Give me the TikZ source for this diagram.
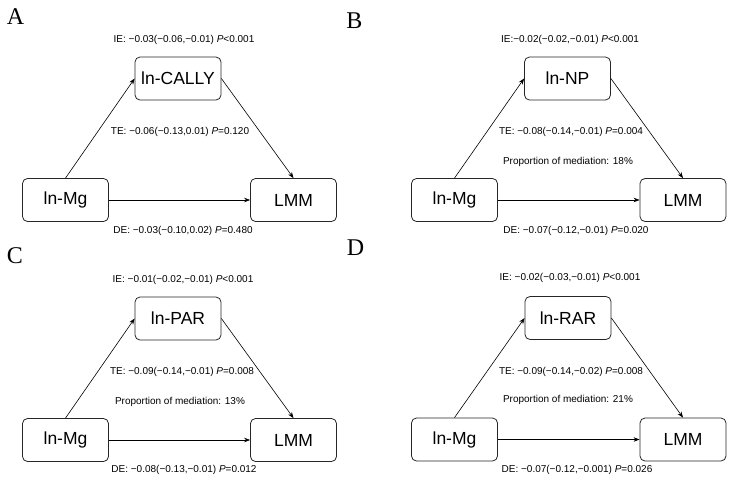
\documentclass[tikz,border=0pt]{standalone}
\usepackage{fontspec}
\setmainfont{Liberation Sans}
\newfontfamily\labelfont{Liberation Serif}
\usetikzlibrary{arrows.meta}
\tikzset{
  varbox/.style={draw=black!85, line width=0.8pt, rounded corners=5pt,
    minimum width=86pt, minimum height=43pt, inner sep=0pt,
    font=\fontsize{17.5}{20}\selectfont},
  stat/.style={inner sep=0pt, font=\fontsize{10}{12}\selectfont},
  plabel/.style={inner sep=0pt, font=\labelfont\fontsize{24}{26}\selectfont},
  conn/.style={line width=0.6pt, -{Stealth[length=6pt,width=4.5pt]}}
}
\newcommand{\Pv}{\textit{P}}
\begin{document}
\begin{tikzpicture}[x=1pt,y=-1pt]
\useasboundingbox (0,0) rectangle (732,483);
% ---------- Panel A ----------
\node[plabel] (labA) at (15.5,16.5) {A};
\node[varbox] (ax) at (65.5,200) {ln-Mg};
\node[varbox] (am) at (178,78.5) {ln-CALLY};
\node[varbox] (ay) at (293.5,200) {LMM};
\draw[conn] (ax.north) -- (am.west);
\draw[conn] (am.east) -- (ay.north);
\draw[conn] (ax.east) -- (ay.west);
\node[stat] (aie) at (184,40) {IE: −0.03(−0.06,−0.01) \Pv<0.001};
\node[stat] (ate) at (180,132) {TE: −0.06(−0.13,0.01) \Pv=0.120};
\node[stat] (ade) at (183,231) {DE: −0.03(−0.10,0.02) \Pv=0.480};
% ---------- Panel B ----------
\node[plabel] (labB) at (354.5,20.5) {B};
\node[varbox] (bx) at (454.5,200) {ln-Mg};
\node[varbox] (bm) at (567.5,78.5) {ln-NP};
\node[varbox] (by) at (683,200) {LMM};
\draw[conn] (bx.north) -- (bm.west);
\draw[conn] (bm.east) -- (by.north);
\draw[conn] (bx.east) -- (by.west);
\node[stat] (bie) at (570,40) {IE:−0.02(−0.02,−0.01) \Pv<0.001};
\node[stat] (bte) at (571,132) {TE: −0.08(−0.14,−0.01) \Pv=0.004};
\node[stat] (bpm) at (568,162) {Proportion of mediation: 18\%};
\node[stat] (bde) at (576,231) {DE: −0.07(−0.12,−0.01) \Pv=0.020};
% ---------- Panel C ----------
\node[plabel] (labC) at (15,256) {C};
\node[varbox] (cx) at (65.5,440) {ln-Mg};
\node[varbox] (cm) at (178,318.5) {ln-PAR};
\node[varbox] (cy) at (293.5,440) {LMM};
\draw[conn] (cx.north) -- (cm.west);
\draw[conn] (cm.east) -- (cy.north);
\draw[conn] (cx.east) -- (cy.west);
\node[stat] (cie) at (183,280) {IE: −0.01(−0.02,−0.01) \Pv<0.001};
\node[stat] (cte) at (182,372) {TE: −0.09(−0.14,−0.01) \Pv=0.008};
\node[stat] (cpm) at (180,402) {Proportion of mediation: 13\%};
\node[stat] (cde) at (184,470) {DE: −0.08(−0.13,−0.01) \Pv=0.012};
% ---------- Panel D ----------
\node[plabel] (labD) at (355.5,247.5) {D};
\node[varbox] (dx) at (454.5,439.5) {ln-Mg};
\node[varbox] (dm) at (568,318) {ln-RAR};
\node[varbox] (dy) at (683,439.5) {LMM};
\draw[conn] (dx.north) -- (dm.west);
\draw[conn] (dm.east) -- (dy.north);
\draw[conn] (dx.east) -- (dy.west);
\node[stat] (die) at (570,278) {IE: −0.02(−0.03,−0.01) \Pv<0.001};
\node[stat] (dte) at (571,372) {TE: −0.09(−0.14,−0.02) \Pv=0.008};
\node[stat] (dpm) at (568,400) {Proportion of mediation: 21\%};
\node[stat] (dde) at (577,470) {DE: −0.07(−0.12,−0.001) \Pv=0.026};
\end{tikzpicture}
\end{document}
